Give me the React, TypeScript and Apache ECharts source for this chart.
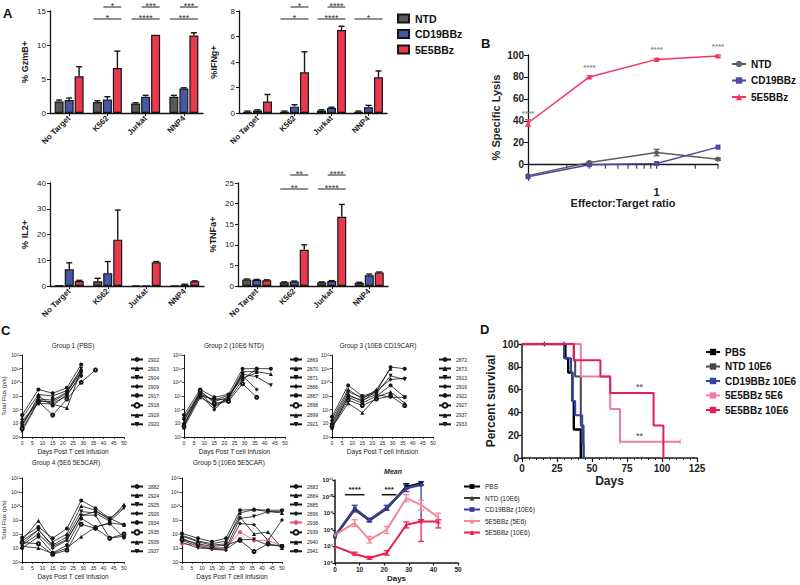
import React, { useEffect, useRef } from "react";
import * as echarts from "echarts";

const FONT = "'Liberation Sans', Arial, Helvetica, sans-serif";
const INK = "#161616";

// ---------------- Panel A data ----------------
const targetCats = ["No Target", "K562", "Jurkat", "NNP4"];
const cellGroups = ["NTD", "CD19BBz", "5E5BBz"];
const barColors = ["#585858", "#4757a8", "#e8394f"];

const gzmbNTD = [1.7, 1.6, 1.4, 2.4];
const gzmbCD19 = [1.9, 2.0, 2.4, 3.6];
const gzmb5E5 = [5.4, 6.6, 11.5, 11.4];
const gzmbErrNTD = [0.2, 0.2, 0.1, 0.2];
const gzmbErrCD19 = [0.3, 0.4, 0.2, 0.1];
const gzmbErr5E5 = [1.4, 2.5, 0, 0.4];

const ifngNTD = [0.1, 0.1, 0.2, 0.1];
const ifngCD19 = [0.2, 0.5, 0.4, 0.45];
const ifng5E5 = [0.9, 3.2, 6.5, 2.8];
const ifngErrNTD = [0.05, 0.05, 0.05, 0.05];
const ifngErrCD19 = [0.05, 0.15, 0.05, 0.15];
const ifngErr5E5 = [0.55, 1.6, 0.3, 0.5];

const il2NTD = [0.3, 1.8, 0.2, 0.2];
const il2CD19 = [6.5, 5.0, 0.2, 0.5];
const il25E5 = [1.9, 18, 9.2, 1.8];
const il2ErrNTD = [0, 1.2, 0, 0];
const il2ErrCD19 = [2.5, 4.5, 0, 0.2];
const il2Err5E5 = [0.3, 11.5, 0.3, 0.2];

const tnfaNTD = [1.6, 0.9, 0.9, 0.8];
const tnfaCD19 = [1.5, 1.1, 1.2, 2.6];
const tnfa5E5 = [1.4, 8.8, 16.8, 3.3];
const tnfaErrNTD = [0.1, 0.1, 0.1, 0.1];
const tnfaErrCD19 = [0.1, 0.1, 0.1, 0.3];
const tnfaErr5E5 = [0.1, 1.2, 3.0, 0.1];

// significance: [category, from group, to group, row, stars]
const gzmbSig: any[] = [[1, 1, 2, 0, "*"], [1, 0, 2, 1, "*"], [2, 1, 2, 0, "***"], [2, 0, 2, 1, "****"], [3, 1, 2, 0, "***"], [3, 0, 2, 1, "***"]];
const ifngSig: any[] = [[1, 1, 2, 0, "*"], [1, 0, 2, 1, "*"], [2, 1, 2, 0, "****"], [2, 0, 2, 1, "****"], [3, 0, 2, 1, "*"]];
const il2Sig: any[] = [];
const tnfaSig: any[] = [[1, 1, 2, 0, "**"], [1, 0, 2, 1, "**"], [2, 1, 2, 0, "****"], [2, 0, 2, 1, "****"]];

// ---------------- Panel B data ----------------
const etRatio = [0.1, 0.3, 1, 3];
const lysisNTD = [-10, 2, 11, 5];
const lysisCD19 = [-11, 0, 1, 16];
const lysis5E5 = [38, 80, 96, 99];
const lysisErrNTD = [0, 1, 3, 1];
const lysisErr5E5 = [3, 1, 1, 1];
const lysisStars = ["****", "****", "****", "****"];
const etTicks = [0.2, 0.3, 0.4, 0.5, 0.6, 0.7, 0.8, 0.9, 1, 2, 3];
const lysisTicks = [0, 20, 40, 60, 80, 100];

// ---------------- Panel C data ----------------
const cDays = [0, 8, 15, 22, 29, 36, 43, 50];
const g1Ids = ["2902", "2903", "2904", "2909", "2917", "2918", "2919", "2920"];
const g1Vals = [
  [4e7, 3e9, 1.6e9, 4e9, 2e11],
  [2.5e7, 1.3e9, 1e9, 2.5e9, 1e11],
  [1e7, 6e8, 5e8, 2e9, 6e10],
  [8e6, 5e8, 3e8, 1e9, 5e10],
  [6e6, 1e9, 2e8, 1.3e9, 3e10],
  [4e6, 4e8, 4e7, 6e8, 1e10, 8e10],
  [1.6e7, 3e8, 2.5e8, 1.3e8, 8e10],
  [2.5e6, 4e8, 4e8, 1.6e9, 1e11],
];
const g2Ids = ["2869", "2870", "2871", "2886", "2887", "2898", "2899", "2921"];
const g2Vals = [
  [4e7, 3e9, 8e8, 1.3e9, 1e11, 1e11, 1e11],
  [2.5e7, 2e9, 4e8, 8e8, 6e10, 6e10, 4e10],
  [1.6e7, 1.6e9, 1.6e8, 6e8, 4e10, 2.5e10, 6e9],
  [1e7, 1.2e9, 1e8, 1e9, 3e10, 3e9],
  [8e6, 1e9, 6e8, 5e8, 1.6e10, 1e11],
  [6e6, 2.5e9, 3e8, 4e8, 8e9, 8e8],
  [5e6, 8e8, 2e8, 7e8, 5e10],
  [2e7, 1.4e9, 5e8, 1.1e9, 2e10, 5e10],
];
const g3Ids = ["2872", "2873", "2913", "2916", "2922", "2927", "2937", "2933"];
const g3Vals = [
  [3e7, 6e9, 1e9, 2e9, 1.3e11, 1e11],
  [2e7, 3e9, 6e8, 3e9, 1e11],
  [1.3e7, 2e9, 8e8, 1.6e9, 3e10, 1.6e10],
  [1e7, 1.3e9, 4e8, 2.5e9, 1.6e10, 2e10],
  [8e6, 8e8, 3e8, 1e9, 6e9, 8e8],
  [6e6, 5e8, 2e8, 6e8, 1e9, 2e8],
  [5e6, 3e8, 6e7, 8e8, 2e9, 3e8],
  [4e6, 1e9, 5e8, 1.3e9, 8e8, 8e8],
];
const g4Ids = ["2882", "2924", "2925", "2926", "2934", "2935", "2936", "2937"];
const g4Vals = [
  [5.6e7, 3.2e8, 5e7, 2.5e8, 2.5e10, 7e9, 1.3e9, 4.5e8],
  [3.6e7, 9e8, 2.8e7, 1e8, 1e10, 5e9, 1e9, 1.3e10],
  [2e7, 2e8, 1.6e7, 6.3e7, 4e9, 3.2e9, 8e8, 7e9],
  [1.6e7, 1e8, 1e7, 3.5e7, 2.2e9, 2.2e9, 5e7, 7e7],
  [1e7, 6.3e7, 4.5e6, 1.6e7, 1.3e9, 3.2e8, 5.6e8, 5.6e7],
  [2.5e7, 2e7, 3.5e6, 7e6, 5e8, 2.5e8, 5e7, 1e8],
  [1.3e7, 1e7, 4e6, 1e7, 6.3e7, 3.2e8, 6.3e8, 4.5e8],
  [3.2e7, 2e8, 1.3e7, 4e7, 2e9, 4e9, 1.3e9, 8e9],
];
const g5Ids = ["2883", "2884", "2885", "2896", "2938", "2939", "2940", "2941"];
const g5Vals = [
  [1.1e8, 5e7, 2.8e7, 5e7, 5e9, 5.6e9, 5e9, 5e9],
  [7e7, 2.8e7, 1.6e7, 2e7, 3.2e9, 5.6e9, 4e9, 3.2e9],
  [5e7, 1.6e7, 1e7, 1e7, 1.3e9, 1.8e9, 4e9, 4e9],
  [3.5e7, 1.3e7, 8e6, 7e6, 5.6e8, 4.5e8, 3.5e7, 1e9],
  [2e7, 1.6e7, 1e7, 1e7, 1.4e8, 3.5e7, 3.5e7, 1.3e7],
  [4e7, 2e7, 1.3e7, 1.6e7, 3.5e7, 5.6e6, 2e7, 1.3e7],
  [8e7, 3.2e7, 2e7, 3.2e7, 1.6e9, 1e8, 1.4e8, 1e7],
  [2.5e7, 1e7, 9e6, 8e6, 4e7, 4e7, 1.6e7, 1.4e7],
];
const g5Highlighted = "2938";
const mouseSymbols = ["circle", "triangle", "path://M0,0L10,0L5,9Z", "diamond", "circle", "emptyCircle", "triangle", "path://M0,0L10,0L5,9Z"];

const meanNames = ["PBS", "NTD (10E6)", "CD19BBz (10E6)", "5E5BBz (5E6)", "5E5BBz (10E6)"];
const meanColors = ["#000000", "#3c3c3c", "#3a3f9e", "#f28a9c", "#ee1f4e"];
const meanDays = [0, 8, 14, 21, 29, 35, 42];
const meanPBS = [4e7, 1.8e9, 4e8, 2e9, 4e10, 6.3e10];
const meanNTD = [4e7, 1.6e9, 3.5e8, 1.8e9, 3.5e10, 5.6e10];
const meanCD19 = [4.5e7, 2e9, 4e8, 2.2e9, 3.2e10, 5e10];
const mean5E6 = [5e7, 2.5e8, 2.5e7, 1e8, 8e9, 3.2e9, 5.6e8];
const mean10E6 = [1e7, 3.5e6, 2e6, 4e6, 2e8, 3.2e8, 3.2e8];
// error bars: [day, low, high]
const errPBS = [[29, 3e10, 6e10], [35, 5e10, 8e10]];
const errNTD: number[][] = [];
const errCD19 = [[8, 1.2e9, 3e9], [14, 3e8, 5e8], [21, 1.5e9, 3e9], [29, 2e10, 5e10], [35, 4e8, 8e10]];
const err5E6 = [[8, 1.6e8, 4e8], [14, 1.6e7, 4e7], [21, 6e7, 1.6e8], [29, 5e9, 1.3e10], [35, 1.5e9, 6e9], [42, 2.5e8, 1e9]];
const err10E6 = [[8, 3e6, 4.5e6], [14, 1.7e6, 2.5e6], [21, 3e6, 5.5e6], [29, 1.3e8, 3e8], [35, 2e7, 4e8], [42, 1.3e8, 4e8]];
// significance in mean panel: [dayFrom, dayTo, flux, labelIndex]
const meanSig = [[4, 12, 1.3e10, 0], [19, 25, 1.3e10, 1]];
const meanSigLabels = ["****", "***"];

// ---------------- Panel D data ----------------
const survNames = ["PBS", "NTD 10E6", "CD19BBz 10E6", "5E5BBz 5E6", "5E5BBz 10E6"];
const survColors = ["#000000", "#474747", "#3340b0", "#f27a9c", "#e61d56"];
const survPBS = [[0, 100], [31, 87.5], [33, 75], [36, 50], [37, 25], [42, 0]];
const survNTD = [[0, 100], [37, 85.7], [38, 71.4], [42, 28.6], [44, 0]];
const survCD19 = [[0, 100], [30, 87.5], [35, 75], [36, 50], [38, 37.5], [43, 12.5], [44, 0]];
const surv5E6 = [[0, 100], [42, 71.4], [63, 42.9], [70, 14.3], [113, 14.3]];
const surv10E6 = [[0, 100], [37, 85.7], [56, 71.4], [63, 57.1], [94, 28.6], [101, 0]];
const censorBlack = [[16, 100], [30, 100]];
const censorPink = [[70, 14.3], [101, 14.3], [113, 14.3]];
const survSig = [[84, 57.1], [84, 14.3]];

// ---------------- helpers ----------------
const SUP: any = { "0": "⁰", "1": "¹", "2": "²", "3": "³", "4": "⁴", "5": "⁵", "6": "⁶", "7": "⁷", "8": "⁸", "9": "⁹", "-": "⁻" };
const pow10Label = (v: number) => "10" + String(Math.round(Math.log10(v))).split("").map((c) => SUP[c] || c).join("");
const stripPrefix = (n: string) => n.slice(n.indexOf("|") + 1);
const BAR_W = 9;
const BAR_STEP = 10;

const axisLine = (w = 1.2) => ({ show: true, onZero: false, lineStyle: { color: INK, width: w } });
const axisTick = (len = 3, w = 1) => ({ show: true, length: len, lineStyle: { color: INK, width: w } });
const lbl = (size: number, bold = false, extra: any = {}) => ({ color: "#222", fontSize: size, fontFamily: FONT, fontWeight: bold ? "bold" : "normal", ...extra });

function buildOption() {
  const grid: any[] = [];
  const xAxis: any[] = [];
  const yAxis: any[] = [];
  const series: any[] = [];
  const legend: any[] = [];
  const graphic: any[] = [];

  const txt = (text: string, x: number, y: number, size: number, opts: any = {}) =>
    graphic.push({
      type: "text",
      x,
      y,
      rotation: opts.rotation || 0,
      silent: true,
      style: {
        text,
        fill: opts.color || "#111",
        fontSize: size,
        fontFamily: FONT,
        fontWeight: opts.bold ? "bold" : "normal",
        fontStyle: opts.italic ? "italic" : "normal",
        align: opts.align || "left",
        textAlign: opts.align || "left",
        verticalAlign: opts.va || "top",
        textVerticalAlign: opts.va || "top",
      },
    });

  // panel letters
  txt("A", 3, 7, 13, { bold: true });
  txt("B", 481, 37, 13, { bold: true });
  txt("C", 1, 324, 13, { bold: true });
  txt("D", 480, 323, 13, { bold: true });

  // ---------------- Panel A ----------------
  const aPanels = [
    { yName: "% GzmB+", max: 15, interval: 5, vals: [gzmbNTD, gzmbCD19, gzmb5E5], errs: [gzmbErrNTD, gzmbErrCD19, gzmbErr5E5], sig: gzmbSig, box: { left: 50, top: 11, width: 153, height: 102 }, rows: [7, 19] },
    { yName: "%IFNg+", max: 8, interval: 2, vals: [ifngNTD, ifngCD19, ifng5E5], errs: [ifngErrNTD, ifngErrCD19, ifngErr5E5], sig: ifngSig, box: { left: 239, top: 11, width: 148, height: 102 }, rows: [7, 19] },
    { yName: "% IL2+", max: 40, interval: 10, vals: [il2NTD, il2CD19, il25E5], errs: [il2ErrNTD, il2ErrCD19, il2Err5E5], sig: il2Sig, box: { left: 50, top: 183, width: 154, height: 103 }, rows: [175, 189] },
    { yName: "%TNFa+", max: 25, interval: 5, vals: [tnfaNTD, tnfaCD19, tnfa5E5], errs: [tnfaErrNTD, tnfaErrCD19, tnfaErr5E5], sig: tnfaSig, box: { left: 238, top: 183, width: 150, height: 103 }, rows: [175, 189] },
  ];

  aPanels.forEach((p) => {
    const g = grid.length;
    grid.push({ ...p.box });
    xAxis.push({
      type: "category",
      gridIndex: g,
      data: targetCats,
      axisLine: axisLine(1.3),
      axisTick: { ...axisTick(3), alignWithLabel: true },
      axisLabel: lbl(8, true, { rotate: 45, margin: 4, interval: 0 }),
      splitLine: { show: false },
    });
    yAxis.push({
      type: "value",
      gridIndex: g,
      min: 0,
      max: p.max,
      interval: p.interval,
      name: p.yName,
      nameLocation: "middle",
      nameGap: 21,
      nameTextStyle: lbl(9, true),
      axisLine: axisLine(1.3),
      axisTick: axisTick(3),
      axisLabel: lbl(8, false, { margin: 4 }),
      splitLine: { show: false },
    });
    const errRows: number[][] = [];
    p.vals.forEach((vals, s) => {
      series.push({
        type: "bar",
        name: "A|" + cellGroups[s],
        xAxisIndex: g,
        yAxisIndex: g,
        data: vals,
        barWidth: BAR_W,
        barGap: "11%",
        silent: true,
        itemStyle: { color: barColors[s], borderColor: INK, borderWidth: 1.2 },
      });
      vals.forEach((v, c) => {
        const e = p.errs[s][c];
        if (e > 0) errRows.push([c, s, v, v + e]);
      });
    });
    series.push({
      type: "custom",
      name: "Aerr" + g,
      xAxisIndex: g,
      yAxisIndex: g,
      z: 5,
      silent: true,
      data: errRows,
      encode: { x: 0, y: [2, 3] },
      renderItem: (params: any, api: any) => {
        const c = api.value(0);
        const s = api.value(1);
        const p0 = api.coord([c, api.value(2)]);
        const p1 = api.coord([c, api.value(3)]);
        const x = p0[0] + (s - 1) * BAR_STEP;
        const st = { stroke: INK, lineWidth: 1.4 };
        return {
          type: "group",
          children: [
            { type: "line", shape: { x1: x, y1: p0[1], x2: x, y2: p1[1] }, style: st },
            { type: "line", shape: { x1: x - 3, y1: p1[1], x2: x + 3, y2: p1[1] }, style: st },
          ],
        };
      },
    });
    // significance brackets
    const band = p.box.width / targetCats.length;
    const bx = (c: number, s: number) => p.box.left + band * (c + 0.5) + (s - 1) * BAR_STEP;
    p.sig.forEach((r: any[]) => {
      const [c, s0, s1, row, stars] = r;
      const y = p.rows[row];
      const x1 = bx(c, s0) - 4;
      const x2 = bx(c, s1) + 4;
      graphic.push({ type: "line", silent: true, shape: { x1, y1: y, x2, y2: y }, style: { stroke: "#222", lineWidth: 1 } });
      txt(stars, (x1 + x2) / 2, y - 1, 9, { align: "center", va: "middle", color: "#333" });
    });
  });

  legend.push({
    data: cellGroups.map((n) => "A|" + n),
    formatter: stripPrefix,
    left: 397,
    top: 13,
    orient: "vertical",
    icon: "rect",
    itemWidth: 11,
    itemHeight: 8,
    itemGap: 4.5,
    padding: 0,
    selectedMode: false,
    textStyle: lbl(10.5, true, { color: "#111", padding: [0, 0, 0, 1] }),
  });

  // ---------------- Panel B ----------------
  {
    const g = grid.length;
    grid.push({ left: 528, top: 55, width: 190, height: 125 });
    xAxis.push({
      type: "log",
      logBase: 10,
      gridIndex: g,
      min: 0.1,
      max: 3,
      axisLine: { show: true, onZero: true, lineStyle: { color: INK, width: 1.3 } },
      axisTick: { show: false },
      axisLabel: lbl(11, true, { margin: 6, formatter: (v: number) => (Math.abs(v - 1) < 1e-6 ? "1" : "") }),
      splitLine: { show: false },
      minorSplitLine: { show: false },
      name: "Effector:Target ratio",
      nameLocation: "middle",
      nameGap: 17,
      nameTextStyle: lbl(11, true),
    });
    yAxis.push({
      type: "value",
      gridIndex: g,
      min: -14,
      max: 100,
      axisLine: axisLine(1.3),
      axisTick: { ...axisTick(4), customValues: lysisTicks },
      axisLabel: lbl(10, true, { margin: 4, customValues: lysisTicks }),
      splitLine: { show: false },
      name: "% Specific Lysis",
      nameLocation: "middle",
      nameGap: 27,
      nameTextStyle: lbl(11, true),
    });
    const bSeries = [
      { n: "NTD", d: lysisNTD, sym: "circle", col: "#5d5d5d" },
      { n: "CD19BBz", d: lysisCD19, sym: "rect", col: "#4f47a3" },
      { n: "5E5BBz", d: lysis5E5, sym: "triangle", col: "#f2345f" },
    ];
    bSeries.forEach((b, i) => {
      series.push({
        type: "line",
        name: "B|" + b.n,
        xAxisIndex: g,
        yAxisIndex: g,
        data: etRatio.map((x, k) => [x, b.d[k]]),
        symbol: b.sym,
        symbolSize: 5,
        silent: true,
        lineStyle: { color: b.col, width: 1.5 },
        itemStyle: { color: b.col },
        label:
          i === 2
            ? { show: true, position: "top", distance: 3, formatter: (pp: any) => lysisStars[pp.dataIndex], color: "#8a8a8a", fontSize: 8, fontFamily: FONT, fontWeight: "bold" }
            : { show: false },
      });
    });
    const bErr: number[][] = [];
    etRatio.forEach((x, k) => {
      if (lysisErrNTD[k] > 0) bErr.push([x, lysisNTD[k] - lysisErrNTD[k], lysisNTD[k] + lysisErrNTD[k], 0]);
      if (lysisErr5E5[k] > 0) bErr.push([x, lysis5E5[k] - lysisErr5E5[k], lysis5E5[k] + lysisErr5E5[k], 2]);
    });
    const bCols = ["#5d5d5d", "#4f47a3", "#f2345f"];
    series.push({
      type: "custom",
      name: "Berr",
      xAxisIndex: g,
      yAxisIndex: g,
      silent: true,
      z: 4,
      data: bErr,
      encode: { x: 0, y: [1, 2] },
      renderItem: (params: any, api: any) => {
        const a = api.coord([api.value(0), api.value(1)]);
        const b = api.coord([api.value(0), api.value(2)]);
        const st = { stroke: bCols[api.value(3)], lineWidth: 1.2 };
        return {
          type: "group",
          children: [
            { type: "line", shape: { x1: a[0], y1: a[1], x2: b[0], y2: b[1] }, style: st },
            { type: "line", shape: { x1: a[0] - 3, y1: a[1], x2: a[0] + 3, y2: a[1] }, style: st },
            { type: "line", shape: { x1: b[0] - 3, y1: b[1], x2: b[0] + 3, y2: b[1] }, style: st },
          ],
        };
      },
    });
    series.push({
      type: "scatter",
      name: "Bticks",
      xAxisIndex: g,
      yAxisIndex: g,
      silent: true,
      data: etTicks.map((t) => [t, 0]),
      symbol: "rect",
      symbolSize: [1.2, 4],
      symbolOffset: [0, 2],
      itemStyle: { color: INK },
      z: 1,
    });
    legend.push({
      data: bSeries.map((b) => "B|" + b.n),
      formatter: stripPrefix,
      left: 731,
      top: 59,
      orient: "vertical",
      itemWidth: 14,
      itemHeight: 8,
      itemGap: 6.5,
      itemStyle: { borderWidth: 0 },
      padding: 0,
      selectedMode: false,
      textStyle: lbl(10, true, { color: "#111" }),
    });
  }

  // ---------------- Panel C ----------------
  const cGroups = [
    { title: "Group 1 (PBS)", tx: 73, ty: 345, ids: g1Ids, vals: g1Vals, box: { left: 22, top: 355, width: 102, height: 82 }, lg: [130, 357], yName: true },
    { title: "Group 2 (10E6 NTD)", tx: 234, ty: 345, ids: g2Ids, vals: g2Vals, box: { left: 184, top: 355, width: 101, height: 82 }, lg: [289, 357], yName: false },
    { title: "Group 3 (10E6 CD19CAR)", tx: 378, ty: 345, ids: g3Ids, vals: g3Vals, box: { left: 332, top: 355, width: 101, height: 82 }, lg: [438, 357], yName: false },
    { title: "Group 4 (5E6 5E5CAR)", tx: 66, ty: 462, ids: g4Ids, vals: g4Vals, box: { left: 21, top: 478, width: 103, height: 84 }, lg: [130, 484], yName: true },
    { title: "Group 5 (10E6 5E5CAR)", tx: 229, ty: 462, ids: g5Ids, vals: g5Vals, box: { left: 182, top: 478, width: 100, height: 84 }, lg: [289, 484], yName: false },
  ];
  cGroups.forEach((cg, gi) => {
    const g = grid.length;
    grid.push({ ...cg.box });
    txt(cg.title, cg.tx, cg.ty, 6.5, { align: "center", va: "middle", color: "#222" });
    xAxis.push({
      type: "value",
      gridIndex: g,
      min: 0,
      max: 50,
      interval: 5,
      axisLine: axisLine(1),
      axisTick: axisTick(2, 0.8),
      axisLabel: lbl(5, false, { margin: 3 }),
      splitLine: { show: false },
      name: "Days Post T cell Infusion",
      nameLocation: "middle",
      nameGap: 11,
      nameTextStyle: lbl(6.5, false),
    });
    yAxis.push({
      type: "log",
      logBase: 10,
      gridIndex: g,
      min: 1e6,
      max: 1e12,
      axisLine: axisLine(1),
      axisTick: axisTick(2, 0.8),
      axisLabel: lbl(5, false, { margin: 2, formatter: pow10Label }),
      splitLine: { show: false },
      minorSplitLine: { show: false },
      name: cg.yName ? "Total Flux (p/s)" : "",
      nameLocation: "middle",
      nameGap: 14,
      nameTextStyle: lbl(6, false),
    });
    cg.ids.forEach((id, m) => {
      const col = gi === 4 && id === g5Highlighted ? "#e9507a" : "#151515";
      const hollow = mouseSymbols[m] === "emptyCircle";
      series.push({
        type: "line",
        name: "G" + gi + "|" + id,
        xAxisIndex: g,
        yAxisIndex: g,
        silent: true,
        data: cg.vals[m].map((v, k) => [cDays[k], v]),
        symbol: mouseSymbols[m],
        symbolSize: hollow ? 3 : 4,
        lineStyle: { color: col, width: 0.8 },
        itemStyle: hollow ? { color: col, borderColor: col, borderWidth: 1 } : { color: col },
      });
    });
    legend.push({
      data: cg.ids.map((id) => "G" + gi + "|" + id),
      formatter: stripPrefix,
      left: cg.lg[0],
      top: cg.lg[1],
      orient: "vertical",
      itemWidth: 12,
      itemHeight: 6,
      itemGap: 4,
      padding: 0,
      selectedMode: false,
      textStyle: lbl(5, false, { color: "#222" }),
    });
  });

  // mean panel
  {
    const g = grid.length;
    grid.push({ left: 335, top: 480, width: 123, height: 83 });
    txt("Mean", 393, 471, 7, { align: "center", va: "middle", italic: true, bold: true, color: "#222" });
    xAxis.push({
      type: "value",
      gridIndex: g,
      min: 0,
      max: 50,
      interval: 10,
      axisLine: axisLine(1.5),
      axisTick: axisTick(2.5, 1.2),
      axisLabel: lbl(6.5, true, { margin: 3 }),
      splitLine: { show: false },
      name: "Days",
      nameLocation: "middle",
      nameGap: 11,
      nameTextStyle: lbl(8, true),
    });
    yAxis.push({
      type: "log",
      logBase: 10,
      gridIndex: g,
      min: 1e6,
      max: 1e11,
      axisLine: axisLine(1.5),
      axisTick: axisTick(2.5, 1.2),
      axisLabel: lbl(6, true, { margin: 2, formatter: pow10Label }),
      splitLine: { show: false },
      minorSplitLine: { show: false },
    });
    const mVals = [meanPBS, meanNTD, meanCD19, mean5E6, mean10E6];
    const mErr = [errPBS, errNTD, errCD19, err5E6, err10E6];
    const mSym = ["rect", "triangle", "rect", "triangle", "triangle"];
    mVals.forEach((vals, i) => {
      series.push({
        type: "line",
        name: "M|" + meanNames[i],
        xAxisIndex: g,
        yAxisIndex: g,
        silent: true,
        data: vals.map((v, k) => [meanDays[k], v]),
        symbol: mSym[i],
        symbolSize: 3.5,
        lineStyle: { color: meanColors[i], width: 2 },
        itemStyle: { color: meanColors[i] },
      });
      series.push({
        type: "custom",
        name: "Merr" + i,
        xAxisIndex: g,
        yAxisIndex: g,
        silent: true,
        z: 3,
        data: mErr[i],
        encode: { x: 0, y: [1, 2] },
        renderItem: (params: any, api: any) => {
          const a = api.coord([api.value(0), api.value(1)]);
          const b = api.coord([api.value(0), api.value(2)]);
          const st = { stroke: meanColors[i], lineWidth: 1.3 };
          return {
            type: "group",
            children: [
              { type: "line", shape: { x1: a[0], y1: a[1], x2: b[0], y2: b[1] }, style: st },
              { type: "line", shape: { x1: a[0] - 3, y1: a[1], x2: a[0] + 3, y2: a[1] }, style: st },
              { type: "line", shape: { x1: b[0] - 3, y1: b[1], x2: b[0] + 3, y2: b[1] }, style: st },
            ],
          };
        },
      });
    });
    series.push({
      type: "custom",
      name: "Msig",
      xAxisIndex: g,
      yAxisIndex: g,
      silent: true,
      data: meanSig,
      encode: { x: [0, 1], y: 2 },
      renderItem: (params: any, api: any) => {
        const a = api.coord([api.value(0), api.value(2)]);
        const b = api.coord([api.value(1), api.value(2)]);
        const label = meanSigLabels[api.value(3)];
        return {
          type: "group",
          children: [
            { type: "line", shape: { x1: a[0], y1: a[1], x2: b[0], y2: b[1] }, style: { stroke: "#111", lineWidth: 1.5 } },
            {
              type: "text",
              x: (a[0] + b[0]) / 2,
              y: a[1] - 1,
              style: { text: label, fill: "#222", fontSize: 8, fontFamily: FONT, fontWeight: "bold", align: "center", textAlign: "center", verticalAlign: "bottom", textVerticalAlign: "bottom" },
            },
          ],
        };
      },
    });
    legend.push({
      data: meanNames.map((n) => "M|" + n),
      formatter: stripPrefix,
      left: 463,
      top: 483,
      orient: "vertical",
      itemWidth: 16,
      itemHeight: 6,
      itemGap: 4.5,
      padding: 0,
      selectedMode: false,
      textStyle: lbl(6.5, false, { color: "#222" }),
    });
  }

  // ---------------- Panel D ----------------
  {
    const g = grid.length;
    grid.push({ left: 522, top: 344, width: 175, height: 114 });
    xAxis.push({
      type: "value",
      gridIndex: g,
      min: 0,
      max: 125,
      interval: 25,
      axisLine: axisLine(1.5),
      axisTick: axisTick(4, 1.2),
      minorTick: { show: true, splitNumber: 5, length: 2, lineStyle: { color: INK, width: 1 } },
      axisLabel: lbl(10, true, { margin: 5 }),
      splitLine: { show: false },
      minorSplitLine: { show: false },
      name: "Days",
      nameLocation: "middle",
      nameGap: 17,
      nameTextStyle: lbl(12, true),
    });
    yAxis.push({
      type: "value",
      gridIndex: g,
      min: 0,
      max: 100,
      interval: 20,
      axisLine: axisLine(1.5),
      axisTick: axisTick(4, 1.2),
      axisLabel: lbl(10, true, { margin: 3 }),
      splitLine: { show: false },
      name: "Percent survival",
      nameLocation: "middle",
      nameGap: 25,
      nameTextStyle: lbl(12, true),
    });
    const sData = [survPBS, survNTD, survCD19, surv5E6, surv10E6];
    sData.forEach((d, i) => {
      series.push({
        type: "line",
        name: "D|" + survNames[i],
        xAxisIndex: g,
        yAxisIndex: g,
        silent: true,
        step: "end",
        data: d,
        symbol: "rect",
        symbolSize: [2, 6],
        showSymbol: false,
        lineStyle: { color: survColors[i], width: i === 0 ? 2.4 : 2 },
        itemStyle: { color: survColors[i] },
      });
    });
    series.push({
      type: "scatter",
      name: "Dcens0",
      xAxisIndex: g,
      yAxisIndex: g,
      silent: true,
      data: censorBlack,
      symbol: "rect",
      symbolSize: [1.2, 5],
      itemStyle: { color: "#111" },
    });
    series.push({
      type: "scatter",
      name: "Dcens1",
      xAxisIndex: g,
      yAxisIndex: g,
      silent: true,
      data: censorPink,
      symbol: "rect",
      symbolSize: [1.2, 5],
      itemStyle: { color: survColors[3] },
    });
    series.push({
      type: "scatter",
      name: "Dsig",
      xAxisIndex: g,
      yAxisIndex: g,
      silent: true,
      data: survSig,
      symbol: "circle",
      symbolSize: 0,
      itemStyle: { color: "rgba(0,0,0,0)" },
      label: { show: true, position: "top", distance: 1, formatter: "**", color: "#555", fontSize: 9, fontFamily: FONT, fontWeight: "bold" },
    });
    legend.push({
      data: survNames.map((n) => "D|" + n),
      formatter: stripPrefix,
      left: 705,
      top: 347,
      orient: "vertical",
      itemWidth: 14,
      itemHeight: 8,
      itemGap: 4.5,
      padding: 0,
      selectedMode: false,
      textStyle: lbl(10, true, { color: "#111" }),
    });
  }

  return {
    animation: false,
    backgroundColor: "#ffffff",
    textStyle: { fontFamily: FONT },
    grid,
    xAxis,
    yAxis,
    series,
    legend,
    graphic,
  };
}

export default function App() {
  const ref = useRef<HTMLDivElement>(null);
  useEffect(() => {
    if (!ref.current) return;
    const chart = echarts.init(ref.current, null, { renderer: "svg" });
    chart.setOption(buildOption() as any);
    return () => chart.dispose();
  }, []);
  return <div ref={ref} style={{ position: "absolute", left: 0, top: 0, width: 800, height: 585, background: "#fff" }} />;
}
